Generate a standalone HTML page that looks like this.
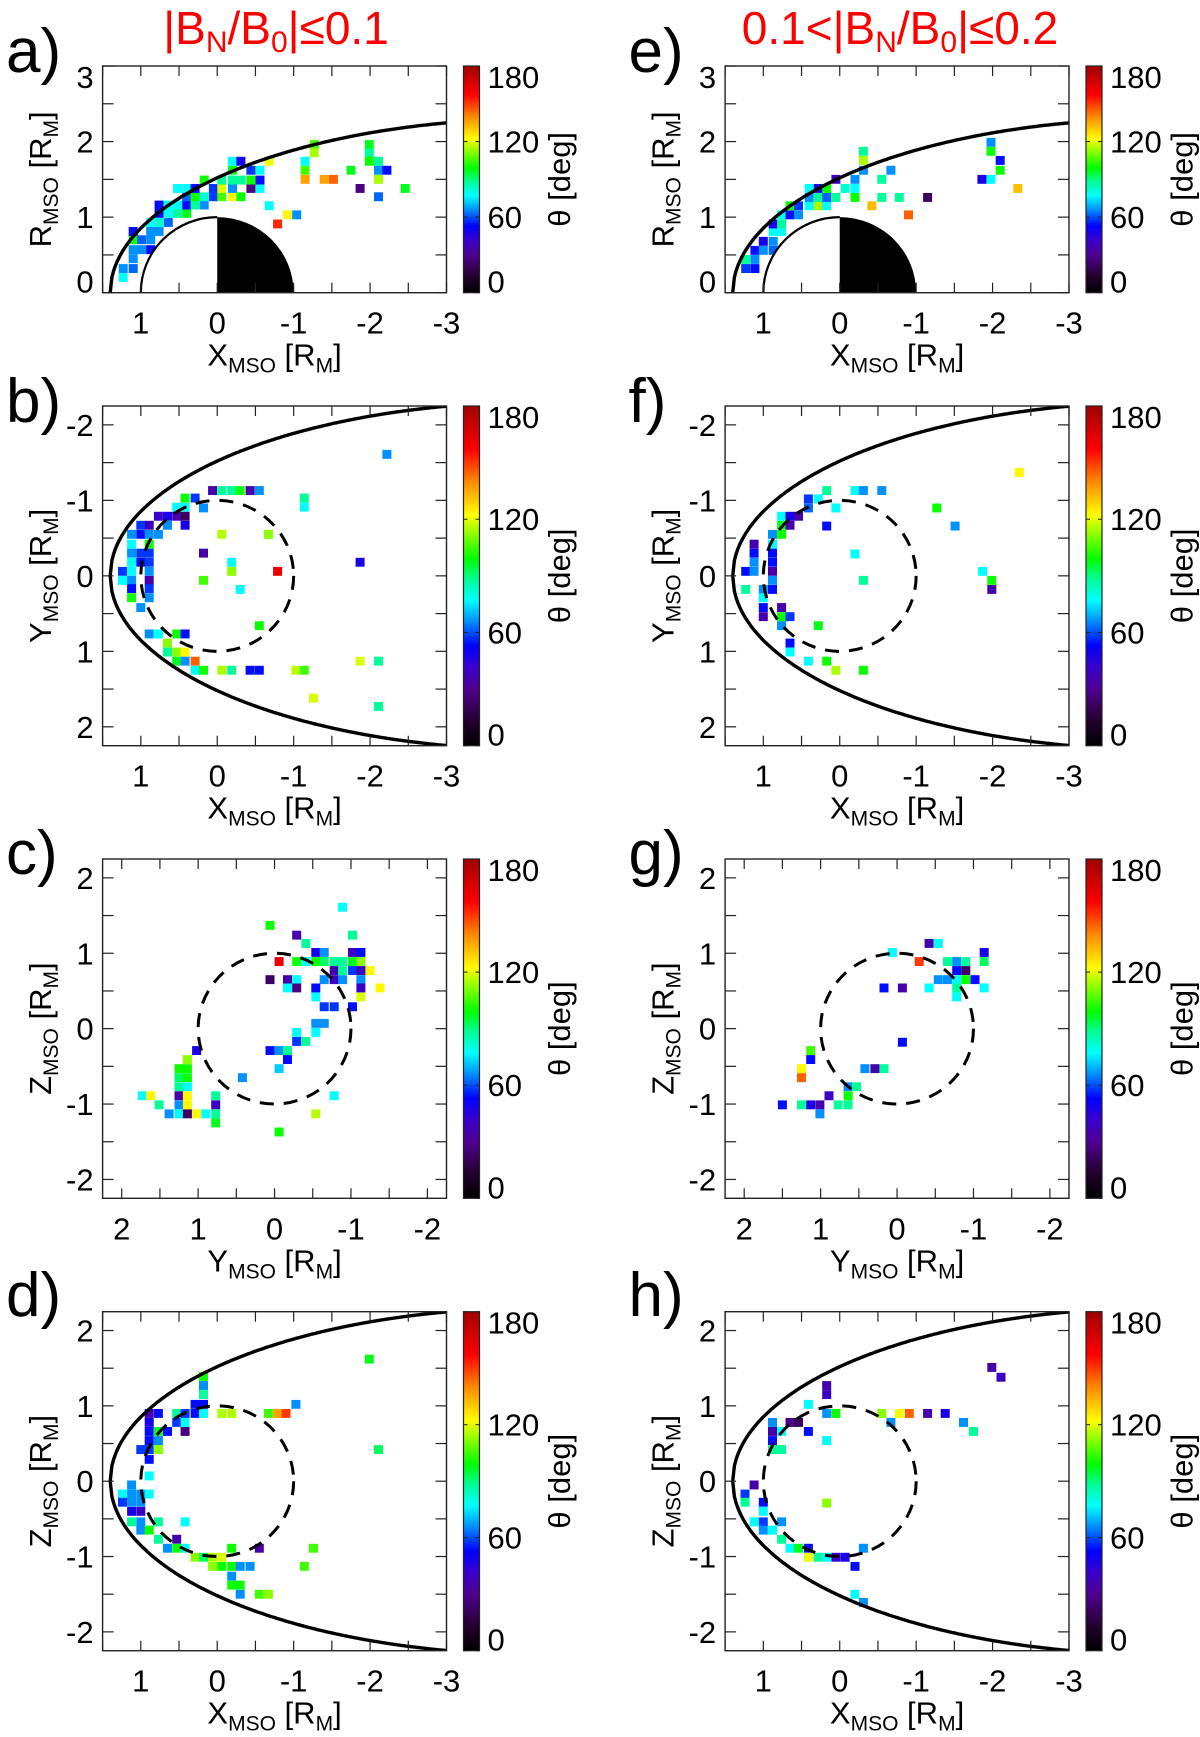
<!DOCTYPE html>
<html><head><meta charset="utf-8"><style>
html,body{margin:0;padding:0;background:#fff;}
svg{display:block;font-family:"Liberation Sans",sans-serif;}
</style></head><body>
<svg id="fig" width="1200" height="1737" viewBox="0 0 1200 1737" xmlns="http://www.w3.org/2000/svg">
<defs>
<linearGradient id="cbgrad" x1="0" y1="1" x2="0" y2="0"></linearGradient>
</defs>
<text x="276" y="44" text-anchor="middle" font-size="46" fill="#ff0000">|B<tspan font-size="30" dy="8">N</tspan><tspan dy="-8">/B</tspan><tspan font-size="30" dy="8">0</tspan><tspan dy="-8">|≤0.1</tspan></text>
<text x="900" y="44" text-anchor="middle" font-size="46" fill="#ff0000">0.1&lt;|B<tspan font-size="30" dy="8">N</tspan><tspan dy="-8">/B</tspan><tspan font-size="30" dy="8">0</tspan><tspan dy="-8">|≤0.2</tspan></text>
</svg>
<script>
// colour scale (theta in degrees)
const cmapTheta = [0, 12, 30, 42, 53, 66, 77, 88, 99, 117, 122, 140, 157, 180];
const cmapColor = ["#000000","#200028","#500090","#3800d0","#0000ff","#0090ff","#00ffff","#00ff98","#00ff00","#c0ff00","#ffff00","#ff8800","#ff0000","#a00000"];
const cbTicks = [0, 60, 120, 180];

// binned data: [x, y, theta]
const binsA = [[1.23,0.20,77],[1.23,0.32,66],[1.10,0.32,62],[1.10,0.45,66],[1.10,0.57,66],[1.10,0.70,100],[1.10,0.81,54],[0.99,0.57,66],[0.99,0.70,62],[0.87,0.57,54],[0.87,0.70,66],[0.87,0.81,66],[0.87,0.93,77],[0.76,0.81,66],[0.76,0.93,82],[0.76,1.05,54],[0.76,1.16,54],[0.64,0.93,62],[0.64,1.05,77],[0.64,1.16,77],[0.52,1.05,88],[0.52,1.16,77],[0.52,1.38,77],[0.40,1.05,97],[0.40,1.16,54],[0.40,1.27,62],[0.40,1.38,77],[0.29,1.16,88],[0.29,1.27,100],[0.29,1.38,54],[0.17,1.16,66],[0.17,1.27,82],[0.17,1.49,100],[0.05,1.27,58],[0.05,1.38,58],[-0.06,1.27,105],[-0.06,1.38,119],[-0.06,1.49,88],[-0.20,1.27,123],[-0.20,1.38,66],[-0.20,1.49,88],[-0.20,1.62,97],[-0.20,1.74,77],[-0.31,1.27,100],[-0.31,1.49,88],[-0.31,1.74,48],[-0.44,1.38,28],[-0.44,1.49,100],[-0.44,1.62,58],[-0.56,1.38,77],[-0.56,1.49,54],[-0.56,1.62,77],[-0.68,1.74,121],[-0.68,1.15,77],[-0.79,0.91,152],[-0.92,1.03,123],[-1.04,1.03,66],[-1.15,1.74,77],[-1.15,1.62,105],[-1.15,1.50,136],[-1.27,1.96,105],[-1.27,1.85,115],[-1.40,1.50,136],[-1.52,1.50,145],[-1.75,1.62,97],[-1.87,1.38,28],[-1.99,1.96,97],[-1.99,1.85,88],[-1.99,1.74,100],[-2.11,1.74,88],[-2.11,1.62,66],[-2.11,1.50,115],[-2.11,1.27,62],[-2.22,1.62,54],[-2.46,1.38,97]];
const binsB = [[0.06,-1.13,35],[-0.06,-1.13,88],[-0.19,-1.13,88],[-0.30,-1.13,100],[-0.43,-1.13,35],[-0.55,-1.13,66],[0.42,-1.03,100],[0.29,-1.03,58],[0.53,-0.91,77],[0.42,-0.91,77],[0.18,-0.90,66],[0.77,-0.79,40],[0.65,-0.79,48],[0.53,-0.79,35],[0.42,-0.79,22],[1.0,-0.67,58],[0.89,-0.67,40],[0.65,-0.67,66],[0.42,-0.67,48],[1.12,-0.55,66],[1.0,-0.55,54],[0.89,-0.55,66],[0.77,-0.55,66],[1.12,-0.42,77],[0.89,-0.42,100],[1.12,-0.30,66],[1.0,-0.30,58],[0.89,-0.30,58],[1.12,-0.18,77],[1.0,-0.18,54],[0.89,-0.18,58],[1.24,-0.06,58],[1.12,-0.06,77],[0.89,-0.06,66],[1.24,0.06,77],[1.12,0.06,66],[0.89,0.06,35],[1.12,0.17,54],[0.89,0.17,58],[1.12,0.29,100],[0.89,0.29,66],[1.0,0.42,66],[-0.06,-0.55,116],[-0.67,-0.55,112],[0.18,-0.30,35],[-0.19,-0.18,77],[-0.19,-0.06,112],[-0.79,-0.06,162],[0.18,0.06,105],[-0.30,0.18,77],[-1.14,-1.03,88],[-1.14,-0.91,77],[-1.87,-0.18,48],[-2.22,-1.61,66],[-0.55,0.66,100],[0.89,0.77,66],[0.77,0.77,77],[0.53,0.77,100],[0.42,0.77,54],[0.65,0.89,112],[0.65,1.01,88],[0.53,1.01,112],[0.42,1.01,123],[0.53,1.13,97],[0.42,1.13,66],[0.29,1.13,145],[0.29,1.25,77],[0.18,1.25,100],[-0.06,1.25,115],[-0.19,1.25,88],[-0.43,1.25,54],[-0.55,1.25,54],[-1.03,1.25,116],[-1.14,1.25,105],[-1.87,1.13,119],[-2.11,1.13,88],[-1.26,1.62,119],[-2.11,1.73,88]];
const binsC = [[-0.89,1.61,77],[0.06,1.37,100],[-0.29,1.24,35],[-1.02,1.24,88],[-0.41,1.13,88],[-0.54,1.01,48],[-0.65,1.01,66],[-1.02,1.01,40],[-1.13,1.01,54],[-0.06,0.89,162],[-0.29,0.89,100],[-0.41,0.89,77],[-0.54,0.89,100],[-0.65,0.89,92],[-0.78,0.89,88],[-0.89,0.89,88],[-1.02,0.89,97],[-1.13,0.89,112],[-0.78,0.77,35],[-0.89,0.77,88],[-1.02,0.77,58],[-1.13,0.77,40],[-1.25,0.77,123],[0.06,0.65,22],[-0.17,0.65,35],[-0.29,0.65,77],[-0.65,0.65,66],[-0.78,0.65,40],[-0.89,0.65,66],[-1.13,0.65,66],[-0.17,0.54,77],[-0.29,0.54,28],[-0.54,0.54,54],[-1.13,0.54,40],[-1.38,0.54,123],[-0.54,0.42,77],[-1.13,0.42,119],[-0.65,0.29,58],[-0.78,0.29,58],[-1.02,0.29,54],[-0.54,0.07,66],[-0.65,0.07,66],[-0.29,-0.05,77],[-0.54,-0.05,77],[-0.29,-0.17,58],[-0.41,-0.17,88],[0.06,-0.29,54],[-0.06,-0.29,66],[-0.17,-0.29,88],[-0.17,-0.41,54],[-0.06,-0.53,72],[1.02,-0.29,48],[0.42,-0.65,66],[1.14,-0.41,112],[1.25,-0.53,100],[1.14,-0.53,100],[1.25,-0.65,92],[1.14,-0.65,100],[1.25,-0.77,88],[1.14,-0.77,77],[1.73,-0.89,77],[1.62,-0.89,123],[1.25,-0.89,35],[1.14,-0.89,123],[0.77,-0.89,88],[-0.78,-0.89,77],[1.51,-1.01,88],[1.25,-1.01,66],[1.14,-1.01,123],[0.77,-1.01,40],[1.38,-1.13,66],[1.25,-1.13,77],[1.14,-1.13,22],[1.02,-1.13,123],[0.90,-1.13,77],[0.77,-1.13,88],[-0.54,-1.13,116],[0.77,-1.25,97],[-0.06,-1.37,100]];
const binsD = [[0.18,1.39,100],[0.18,1.27,66],[0.18,1.15,88],[0.29,1.02,54],[0.18,1.02,54],[-1.03,1.02,66],[0.89,0.90,35],[0.77,0.90,54],[0.53,0.90,88],[0.42,0.90,58],[0.29,0.90,54],[0.18,0.90,77],[-0.06,0.90,115],[-0.19,0.90,115],[-0.67,0.90,105],[-0.79,0.90,136],[-0.90,0.90,150],[0.89,0.78,48],[0.53,0.78,58],[0.42,0.78,77],[0.89,0.66,54],[0.77,0.66,97],[0.65,0.66,54],[0.42,0.66,28],[0.89,0.54,54],[0.77,0.54,66],[1.0,0.42,58],[0.89,0.42,58],[0.77,0.42,112],[0.89,0.29,54],[0.89,0.07,77],[1.12,-0.05,66],[1.24,-0.17,77],[1.12,-0.17,66],[1.0,-0.17,66],[0.89,-0.17,77],[1.24,-0.28,58],[1.12,-0.28,66],[1.0,-0.28,66],[1.12,-0.40,48],[1.0,-0.40,40],[1.12,-0.54,88],[1.0,-0.54,66],[0.77,-0.54,88],[0.42,-0.54,77],[1.0,-0.65,66],[0.89,-0.65,100],[0.77,-0.77,88],[0.53,-0.77,35],[0.65,-0.89,66],[0.53,-0.89,100],[0.42,-0.89,77],[-0.19,-0.89,100],[-0.55,-0.89,35],[-1.26,-0.89,105],[0.29,-1.01,112],[0.18,-1.01,92],[0.06,-1.01,115],[-0.06,-1.01,119],[0.06,-1.13,112],[-0.06,-1.13,100],[-0.19,-1.13,100],[-0.30,-1.13,66],[-0.43,-1.13,66],[-1.14,-1.13,105],[-0.19,-1.26,66],[-0.19,-1.38,100],[-0.30,-1.38,100],[-0.30,-1.50,66],[-0.55,-1.50,105],[-0.67,-1.50,112],[-1.99,1.62,97],[-2.11,0.42,92]];
const binsE = [[1.23,0.32,58],[1.11,0.32,54],[1.23,0.44,88],[1.11,0.44,66],[1.11,0.56,54],[1.0,0.56,66],[0.87,0.56,62],[1.0,0.68,48],[0.87,0.68,66],[0.87,0.81,77],[0.76,0.81,77],[0.87,0.91,48],[0.76,0.91,88],[0.76,1.03,77],[0.65,1.03,54],[0.54,1.03,66],[0.65,1.15,100],[0.54,1.15,58],[0.40,1.15,77],[0.28,1.15,115],[0.17,1.15,77],[0.40,1.26,66],[0.28,1.26,88],[0.17,1.26,62],[0.05,1.26,88],[0.40,1.38,77],[0.28,1.38,48],[0.17,1.38,100],[-0.07,1.38,82],[-0.20,1.38,77],[0.05,1.50,40],[-0.20,1.50,66],[-0.31,1.62,66],[-0.31,1.75,115],[-0.31,1.87,88],[-0.20,1.26,100],[-0.42,1.15,132],[-0.55,1.50,88],[-0.55,1.26,88],[-0.67,1.62,66],[-0.78,1.26,88],[-0.90,1.03,145],[-1.15,1.26,22],[-1.86,1.50,48],[-1.98,1.50,77],[-1.98,1.99,66],[-1.98,1.87,100],[-2.10,1.75,54],[-2.10,1.62,100],[-2.33,1.38,132]];
const binsF = [[0.17,-1.13,88],[-0.20,-1.13,77],[-0.31,-1.13,66],[-0.55,-1.13,66],[0.41,-1.02,58],[0.28,-1.02,77],[0.41,-0.90,62],[0.05,-0.90,77],[0.76,-0.79,77],[0.65,-0.79,48],[0.54,-0.79,35],[0.76,-0.67,97],[0.65,-0.67,35],[0.17,-0.66,54],[0.88,-0.55,66],[0.76,-0.55,100],[1.12,-0.42,35],[0.88,-0.42,77],[1.12,-0.30,54],[0.88,-0.30,54],[1.12,-0.18,66],[0.88,-0.18,54],[1.23,-0.06,54],[1.12,-0.06,66],[0.88,-0.06,35],[0.88,0.06,66],[1.23,0.18,88],[1.0,0.18,66],[0.88,0.18,54],[1.0,0.29,77],[1.0,0.42,54],[0.76,0.42,35],[1.0,0.54,35],[0.76,0.54,100],[0.65,0.54,58],[0.76,0.66,66],[0.28,0.66,97],[0.65,0.89,54],[0.65,1.01,77],[0.41,1.13,77],[0.17,1.13,100],[0.05,1.25,115],[-0.31,1.25,100],[-0.2,-0.29,77],[-0.31,0.06,88],[-1.27,-0.90,100],[-1.51,-0.66,66],[-1.87,-0.06,77],[-1.99,0.06,100],[-1.99,0.18,35],[-2.35,-1.37,123]];
const binsG = [[-0.42,1.13,35],[-0.54,1.13,77],[0.06,1.01,77],[-1.14,1.01,48],[-0.29,0.89,150],[-0.66,0.89,88],[-0.78,0.89,66],[-0.90,0.89,88],[-1.14,0.89,92],[-0.78,0.77,54],[-0.90,0.77,22],[-0.54,0.65,66],[-0.66,0.65,66],[-0.78,0.65,77],[-0.90,0.65,100],[-1.02,0.65,54],[0.17,0.54,54],[-0.07,0.54,35],[-0.42,0.54,77],[-0.78,0.54,88],[-1.14,0.54,77],[-0.78,0.42,77],[-0.07,-0.18,54],[1.13,-0.29,105],[1.13,-0.41,54],[1.25,-0.53,123],[1.25,-0.65,145],[0.42,-0.53,66],[0.29,-0.53,35],[0.17,-0.53,88],[0.64,-0.77,66],[0.53,-0.77,88],[0.89,-0.89,40],[0.64,-0.89,100],[1.50,-1.01,54],[1.25,-1.01,88],[1.13,-1.01,48],[1.01,-1.01,35],[0.77,-1.01,88],[0.64,-1.01,88],[1.01,-1.13,66]];
const binsH = [[-1.99,1.51,35],[-2.11,1.38,40],[0.17,1.27,35],[0.17,1.15,40],[0.41,1.02,77],[0.17,0.90,66],[0.05,0.90,100],[-0.55,0.90,112],[-0.78,0.90,121],[-0.91,0.90,145],[-1.15,0.90,35],[-1.38,0.90,48],[0.88,0.78,66],[0.65,0.78,28],[0.54,0.78,22],[-0.67,0.78,66],[-1.62,0.78,66],[0.88,0.66,35],[0.76,0.66,77],[0.41,0.66,54],[-1.75,0.66,88],[0.88,0.54,54],[0.17,0.54,77],[0.88,0.42,88],[0.76,0.42,88],[1.12,-0.05,35],[1.24,-0.17,58],[1.24,-0.28,88],[1.0,-0.28,54],[1.0,-0.40,77],[1.12,-0.54,77],[1.0,-0.54,58],[0.76,-0.54,66],[1.0,-0.65,66],[0.88,-0.65,77],[0.76,-0.77,88],[0.65,-0.89,77],[0.54,-0.89,97],[0.41,-0.89,54],[-0.31,-0.89,66],[0.41,-1.01,121],[0.28,-1.01,88],[0.17,-1.01,77],[0.05,-1.01,40],[-0.07,-1.01,48],[-0.2,-1.13,54],[0.17,-0.29,112],[-0.2,-1.50,77],[-0.31,-1.61,66]];

const xTicksX = [1, 0, -1, -2, -3];
const xTicksY = [2, 1, 0, -1, -2];
const yTicksR = [0, 1, 2, 3];
const yTicksB = [-2, -1, 0, 1, 2];
const yTicksZ = [2, 1, 0, -1, -2];

const NS = "http://www.w3.org/2000/svg";
const svg = document.getElementById("fig");

const grad = document.getElementById("cbgrad");
cmapTheta.forEach((t, i) => {
  const s = document.createElementNS(NS, "stop");
  s.setAttribute("offset", (t / 180).toFixed(4));
  s.setAttribute("stop-color", cmapColor[i]);
  grad.appendChild(s);
});

function hex(c){return [parseInt(c.slice(1,3),16),parseInt(c.slice(3,5),16),parseInt(c.slice(5,7),16)];}
function colorOf(t){
  t = Math.max(0, Math.min(180, t));
  for (let i = 0; i < cmapTheta.length - 1; i++) {
    if (t <= cmapTheta[i+1]) {
      const f = (t - cmapTheta[i]) / (cmapTheta[i+1] - cmapTheta[i]);
      const a = hex(cmapColor[i]), b = hex(cmapColor[i+1]);
      return "rgb(" + a.map((v,k)=>Math.round(v + (b[k]-v)*f)).join(",") + ")";
    }
  }
  return cmapColor[cmapColor.length-1];
}
function el(tag, attrs, parent){
  const e = document.createElementNS(NS, tag);
  for (const k in attrs) e.setAttribute(k, attrs[k]);
  (parent || svg).appendChild(e);
  return e;
}
function bowR(x){ const u = 1.40 - x; const v = 1.886*u - 0.1677*u*u; return v > 0 ? Math.sqrt(v) : 0; }

const W = 343.9;
const rows = [{top:66,bot:292.7},{top:406,bot:745.7},{top:859,bot:1198.3},{top:1311.7,bot:1650.7}];
const colOff = [0, 622.5];
const labelBase = [72, 422, 874, 1316];
const FS = 31;

const panels = [
  {id:"a",col:0,row:0,type:"R",bins:binsA},
  {id:"b",col:0,row:1,type:"XY",bins:binsB},
  {id:"c",col:0,row:2,type:"YZ",bins:binsC},
  {id:"d",col:0,row:3,type:"XZ",bins:binsD},
  {id:"e",col:1,row:0,type:"R",bins:binsE},
  {id:"f",col:1,row:1,type:"XY",bins:binsF},
  {id:"g",col:1,row:2,type:"YZ",bins:binsG},
  {id:"h",col:1,row:3,type:"XZ",bins:binsH}
];

panels.forEach(p => {
  const L = 102.6 + colOff[p.col], T = rows[p.row].top, B = rows[p.row].bot, H = B - T;
  let x0, x1, yT, yB, xt, yt, xName, yName;
  if (p.type === "R") { x0=1.5; x1=-3; yT=3; yB=0; xt=xTicksX; yt=yTicksR; xName="X"; yName="R"; }
  else if (p.type === "XY") { x0=1.5; x1=-3; yT=-2.25; yB=2.25; xt=xTicksX; yt=yTicksB; xName="X"; yName="Y"; }
  else if (p.type === "YZ") { x0=2.25; x1=-2.25; yT=2.25; yB=-2.25; xt=xTicksY; yt=yTicksZ; xName="Y"; yName="Z"; }
  else { x0=1.5; x1=-3; yT=2.25; yB=-2.25; xt=xTicksX; yt=yTicksZ; xName="X"; yName="Z"; }
  const sx = x => L + (x0 - x) / (x0 - x1) * W;
  const sy = y => T + (y - yT) / (yB - yT) * H;
  const kx = W / Math.abs(x0 - x1), ky = H / Math.abs(yB - yT);

  const g = el("g", {});
  
  
  const cid = "clip-" + p.id;
  const cp = el("clipPath", {id: cid}, g);
  el("rect", {x:L, y:T, width:W, height:H}, cp);
  const plot = el("g", {"clip-path": "url(#" + cid + ")"}, g);

  const bw = 0.118 * kx, bh = 0.118 * ky;
  p.bins.forEach(b => {
    const r = el("rect", {x:(sx(b[0]) - bw/2).toFixed(1), y:(sy(b[1]) - bh/2).toFixed(1), width:bw.toFixed(1), height:bh.toFixed(1), fill:colorOf(b[2])}, plot);
    
    
  });

  if (p.type === "R") {
    const rx = kx, ry = ky;
    el("path", {d:`M${sx(1)},${sy(0)} A${rx},${ry} 0 0 1 ${sx(0)},${sy(1)} L${sx(0)},${sy(0)} Z`, fill:"#fff", stroke:"none"}, plot);
    const night = el("path", {d:`M${sx(0)},${sy(1)} A${rx},${ry} 0 0 1 ${sx(-1)},${sy(0)} L${sx(0)},${sy(0)} Z`, fill:"#000"}, plot);
    
    
    const outline = el("path", {d:`M${sx(1)},${sy(0)} A${rx},${ry} 0 0 1 ${sx(0)},${sy(1)}`, fill:"none", stroke:"#000", "stroke-width":2.2}, plot);
    
    
  } else {
    const c = el("ellipse", {cx:sx(0), cy:sy(0), rx:kx, ry:ky, fill:"none", stroke:"#000", "stroke-width":3, "stroke-dasharray":"14 10"}, plot);
    
    
  }

  if (p.type !== "YZ") {
    let pts = [];
    for (let i = 0; i <= 200; i++) {
      const x = -3.05 + (1.40 + 3.05) * i / 200;
      pts.push([x, bowR(x)]);
    }
    let d = "";
    if (p.type === "R") {
      pts.slice().reverse().forEach((q,i)=>{ d += (i?"L":"M") + sx(q[0]).toFixed(1) + "," + sy(q[1]).toFixed(1); });
    } else {
      pts.forEach((q,i)=>{ d += (i?"L":"M") + sx(q[0]).toFixed(1) + "," + sy(-q[1]).toFixed(1); });
      pts.slice().reverse().forEach(q=>{ d += "L" + sx(q[0]).toFixed(1) + "," + sy(q[1]).toFixed(1); });
    }
    const bs = el("path", {d:d, fill:"none", stroke:"#000", "stroke-width":3.4}, plot);
    
    
  }

  const frame = el("rect", {x:L, y:T, width:W, height:H, fill:"none", stroke:"#222", "stroke-width":1.4}, g);
  
  
  const xmin = Math.min(x0,x1), xmax = Math.max(x0,x1), ymin = Math.min(yT,yB), ymax = Math.max(yT,yB);
  for (let v = Math.ceil(xmin*2)/2; v <= xmax + 1e-6; v += 0.5) {
    const X = sx(v);
    el("line", {x1:X, y1:B, x2:X, y2:B-10, stroke:"#222", "stroke-width":1.2}, g);
    el("line", {x1:X, y1:T, x2:X, y2:T+10, stroke:"#222", "stroke-width":1.2}, g);
  }
  for (let v = Math.ceil(ymin*2)/2; v <= ymax + 1e-6; v += 0.5) {
    const Y = sy(v);
    el("line", {x1:L, y1:Y, x2:L+11, y2:Y, stroke:"#222", "stroke-width":1.2}, g);
    el("line", {x1:L+W, y1:Y, x2:L+W-11, y2:Y, stroke:"#222", "stroke-width":1.2}, g);
  }
  xt.forEach(v => {
    const t = el("text", {x:sx(v), y:B+41, "text-anchor":"middle", "font-size":FS}, g);
    t.textContent = String(v);
    
    
  });
  yt.forEach(v => {
    const cy = Math.max(T + 11, Math.min(B - 11, sy(v)));
    const t = el("text", {x:L-9, y:cy+11, "text-anchor":"end", "font-size":FS}, g);
    t.textContent = String(v);
    
    
  });

  const xtl = el("text", {x:L + W/2, y:B+73, "text-anchor":"middle", "font-size":FS}, g);
  xtl.innerHTML = xName + '<tspan font-size="21" dy="7">MSO</tspan><tspan dy="-7"> [R</tspan><tspan font-size="21" dy="7">M</tspan><tspan dy="-7">]</tspan>';
  
  
  const yx = 51 + colOff[p.col], yy = T + H/2;
  const ytl = el("text", {x:yx, y:yy, "text-anchor":"middle", "font-size":FS, transform:`rotate(-90 ${yx} ${yy})`}, g);
  ytl.innerHTML = yName + '<tspan font-size="21" dy="7">MSO</tspan><tspan dy="-7"> [R</tspan><tspan font-size="21" dy="7">M</tspan><tspan dy="-7">]</tspan>';
  
  

  const pl = el("text", {x:6 + colOff[p.col], y:labelBase[p.row], "font-size":62}, g);
  pl.textContent = p.id + ")";
  
  

  const cbL = 463.5 + colOff[p.col], cbW = 16;
  const cb = el("rect", {x:cbL, y:T, width:cbW, height:H, fill:"url(#cbgrad)", stroke:"#222", "stroke-width":1.2}, g);
  
  
  cbTicks.forEach(v => {
    const Y = B - v/180*H;
    el("line", {x1:cbL, y1:Y, x2:cbL+4, y2:Y, stroke:"#222", "stroke-width":1}, g);
    el("line", {x1:cbL+cbW, y1:Y, x2:cbL+cbW-4, y2:Y, stroke:"#222", "stroke-width":1}, g);
    const cy = Math.max(T + 11, Math.min(B - 11, Y));
    const t = el("text", {x:cbL+cbW+8, y:cy+11, "font-size":FS}, g);
    t.textContent = String(v);
    
    
  });
  const cx = 570 + colOff[p.col];
  const ct = el("text", {x:cx, y:yy, "text-anchor":"middle", "font-size":FS, transform:`rotate(-90 ${cx} ${yy})`}, g);
  ct.textContent = "θ [deg]";
  
  
});
</script>
</body></html>
